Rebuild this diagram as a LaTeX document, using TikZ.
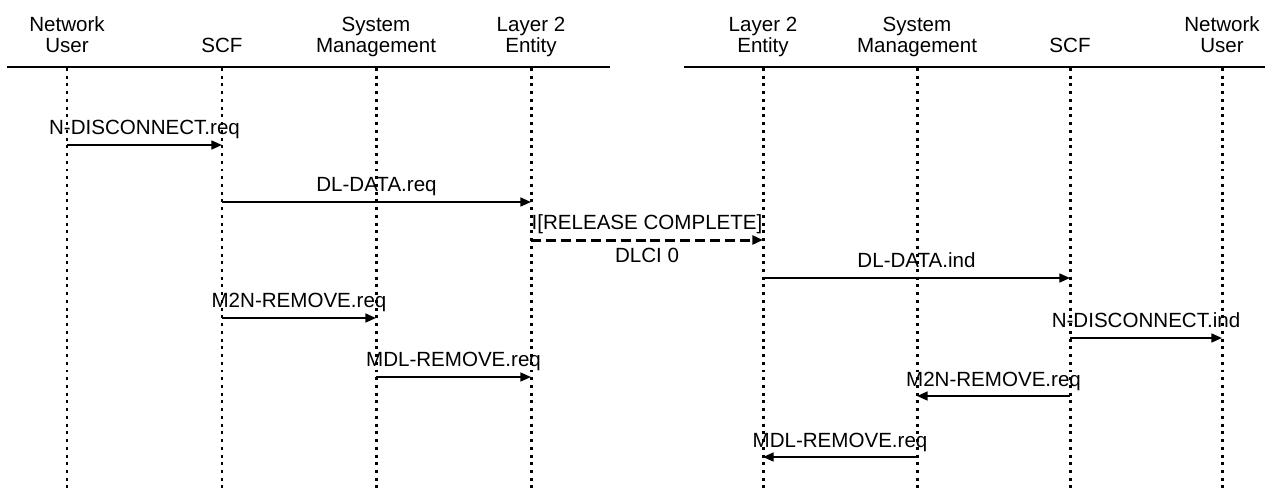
\documentclass[tikz,border=0pt]{standalone}
\usepackage{fontspec}
\setmainfont{Liberation Sans}
\usetikzlibrary{arrows.meta,calc}

\begin{document}
\begin{tikzpicture}[
  x=0.02cm, y=-0.02cm,
  font=\fontsize{11.7}{11.9}\selectfont,
  hdr/.style={align=center,anchor=south,inner sep=0pt,text depth=0pt},
  life/.style={line width=1.7pt,dash pattern=on 1.7pt off 2.7pt},
  rule/.style={line width=1.1pt},
  msg/.style={line width=1.1pt,-{Triangle[length=6pt,width=5pt]}},
  frame/.style={msg,line width=1.7pt,dash pattern=on 5.7pt off 2.8pt},
  lbl/.style={anchor=base,yshift=5.7pt,inner sep=0pt}
]
\useasboundingbox (0,0) rectangle (1273,488);

% entities, left side
\node[hdr] (nuL)  at (67,53)  {Network\\User};
\node[hdr] (scfL) at (222,53) {SCF};
\node[hdr] (smL)  at (376,53) {System\\Management};
\node[hdr] (l2L)  at (531,53) {Layer 2\\Entity};
% entities, right side
\node[hdr] (l2R)  at (763,53)  {Layer 2\\Entity};
\node[hdr] (smR)  at (917,53)  {System\\Management};
\node[hdr] (scfR) at (1070,53) {SCF};
\node[hdr] (nuR)  at (1222,53) {Network\\User};

\coordinate (top) at (0,68);
\coordinate (bot) at (0,488);
\draw[rule] (7,67) -- (610,67);
\draw[rule] (684,67) -- (1265,67);
\foreach \e in {nuL,scfL,smL,l2L,l2R,smR,scfR,nuR}
  \draw[life] (\e |- top) -- (\e |- bot);

% message rows
\coordinate (m1) at (0,145);
\coordinate (m2) at (0,202);
\coordinate (m3) at (0,240);
\coordinate (m4) at (0,278);
\coordinate (m5) at (0,318);
\coordinate (m6) at (0,338);
\coordinate (m7) at (0,377);
\coordinate (m8) at (0,396);
\coordinate (m9) at (0,457);

\draw[msg] (nuL |- m1) -- node[lbl] {N-DISCONNECT.req} (scfL |- m1);
\draw[msg] (scfL |- m2) -- node[lbl] {DL-DATA.req} (l2L |- m2);
\draw[frame] (l2L |- m3) -- node[lbl] (rc) {I[RELEASE COMPLETE]} (l2R |- m3);
\node[anchor=base,inner sep=0pt,yshift=-13pt] (dlci) at ($(l2L |- m3)!0.5!(l2R |- m3)$) {DLCI 0};
\draw[msg] (l2R |- m4) -- node[lbl] {DL-DATA.ind} (scfR |- m4);
\draw[msg] (scfL |- m5) -- node[lbl] {M2N-REMOVE.req} (smL |- m5);
\draw[msg] (scfR |- m6) -- node[lbl] {N-DISCONNECT.ind} (nuR |- m6);
\draw[msg] (smL |- m7) -- node[lbl] {MDL-REMOVE.req} (l2L |- m7);
\draw[msg] (scfR |- m8) -- node[lbl] {M2N-REMOVE.req} (smR |- m8);
\draw[msg] (smR |- m9) -- node[lbl] {MDL-REMOVE.req} (l2R |- m9);
\end{tikzpicture}
\end{document}
